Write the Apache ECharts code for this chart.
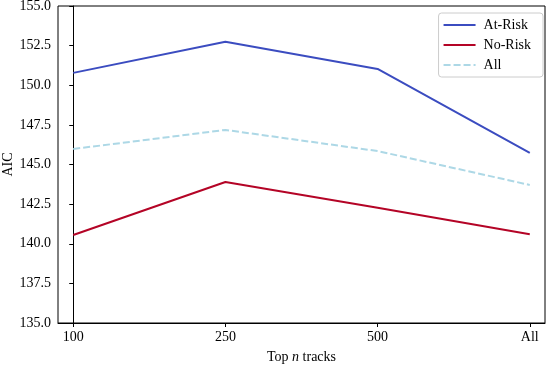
<!DOCTYPE html>
<html><head><meta charset="utf-8">
<script src="https://cdn.jsdelivr.net/npm/echarts@6/dist/echarts.min.js"></script>
<style>html,body{margin:0;padding:0;background:#fff}#c{width:548px;height:366px}</style>
</head><body><div id="c"></div>
<script>
var categories = ['100', '250', '500', 'All'];
var atRisk = [150.78, 152.74, 151.03, 145.73];
var noRisk = [140.55, 143.90, 142.27, 140.60];
var allVals = [145.98, 147.18, 145.85, 143.71];
var yTicks = [135, 137.5, 140, 142.5, 145, 147.5, 150, 152.5, 155];

var FONT = 'Liberation Serif';
function pts(arr){ return arr.map(function(v,i){ return [i, v]; }); }

var chart = echarts.init(document.getElementById('c'), null, {renderer:'canvas'});
chart.setOption({
  animation: false,
  backgroundColor: '#fff',
  textStyle: {fontFamily: FONT},
  grid: {left: 58, right: 3, top: 6, bottom: 43, containLabel: false, outerBoundsMode: 'none',
    show: true, borderColor: '#000', borderWidth: 1, backgroundColor: 'transparent'},
  legend: {
    right: 5, top: 13, orient: 'vertical',
    itemWidth: 32, itemHeight: 12, itemGap: 6,
    padding: [5, 12, 5, 4],
    borderColor: '#ccc', borderWidth: 1, borderRadius: 3,
    backgroundColor: 'rgba(255,255,255,0.8)',
    itemStyle: {opacity: 0},
    textStyle: {fontFamily: FONT, fontSize: 14, color: '#000', padding: [0, 0, 0, 3]},
    data: ['At-Risk', 'No-Risk', 'All']
  },
  xAxis: {
    type: 'value', min: -0.1, max: 3.1,
    name: '{a|Top }{b|n}{a| tracks}', nameLocation: 'middle', nameGap: 27, nameMoveOverlap: false,
    nameTextStyle: {rich: {a: {fontFamily: FONT, fontSize: 14, color: '#000'}, b: {fontFamily: FONT, fontSize: 14, fontStyle: 'italic', color: '#000'}}},
    axisLine: {show: true, lineStyle: {color: '#000', width: 1}},
    axisTick: {show: true, length: 4, lineStyle: {color: '#000'}, customValues: [0,1,2,3]},
    axisLabel: {customValues: [0,1,2,3], margin: 7, fontFamily: FONT, fontSize: 14, color: '#000',
      formatter: function(v){ return categories[Math.round(v)]; }},
    splitLine: {show: false}
  },
  yAxis: {
    type: 'value', min: 135, max: 155, interval: 2.5,
    name: 'AIC', nameLocation: 'middle', nameGap: 43, nameRotate: 90, nameMoveOverlap: false,
    nameTextStyle: {fontFamily: FONT, fontSize: 14, color: '#000'},
    axisLine: {show: true, lineStyle: {color: '#000', width: 1}},
    axisTick: {show: true, length: 4, lineStyle: {color: '#000'}},
    axisLabel: {margin: 7, fontFamily: FONT, fontSize: 14, color: '#000',
      formatter: function(v){ return v.toFixed(1); }},
    splitLine: {show: false}
  },
  series: [
    {name: 'At-Risk', type: 'line', data: pts(atRisk), symbol: 'none', lineStyle: {color: '#3b4cc0', width: 2}, itemStyle: {color: '#3b4cc0'}},
    {name: 'No-Risk', type: 'line', data: pts(noRisk), symbol: 'none', lineStyle: {color: '#b40426', width: 2}, itemStyle: {color: '#b40426'}},
    {name: 'All', type: 'line', data: pts(allVals), symbol: 'none', lineStyle: {color: '#add8e6', width: 2, type: [7, 3]}, itemStyle: {color: '#add8e6'}}
  ]
});
</script></body></html>
